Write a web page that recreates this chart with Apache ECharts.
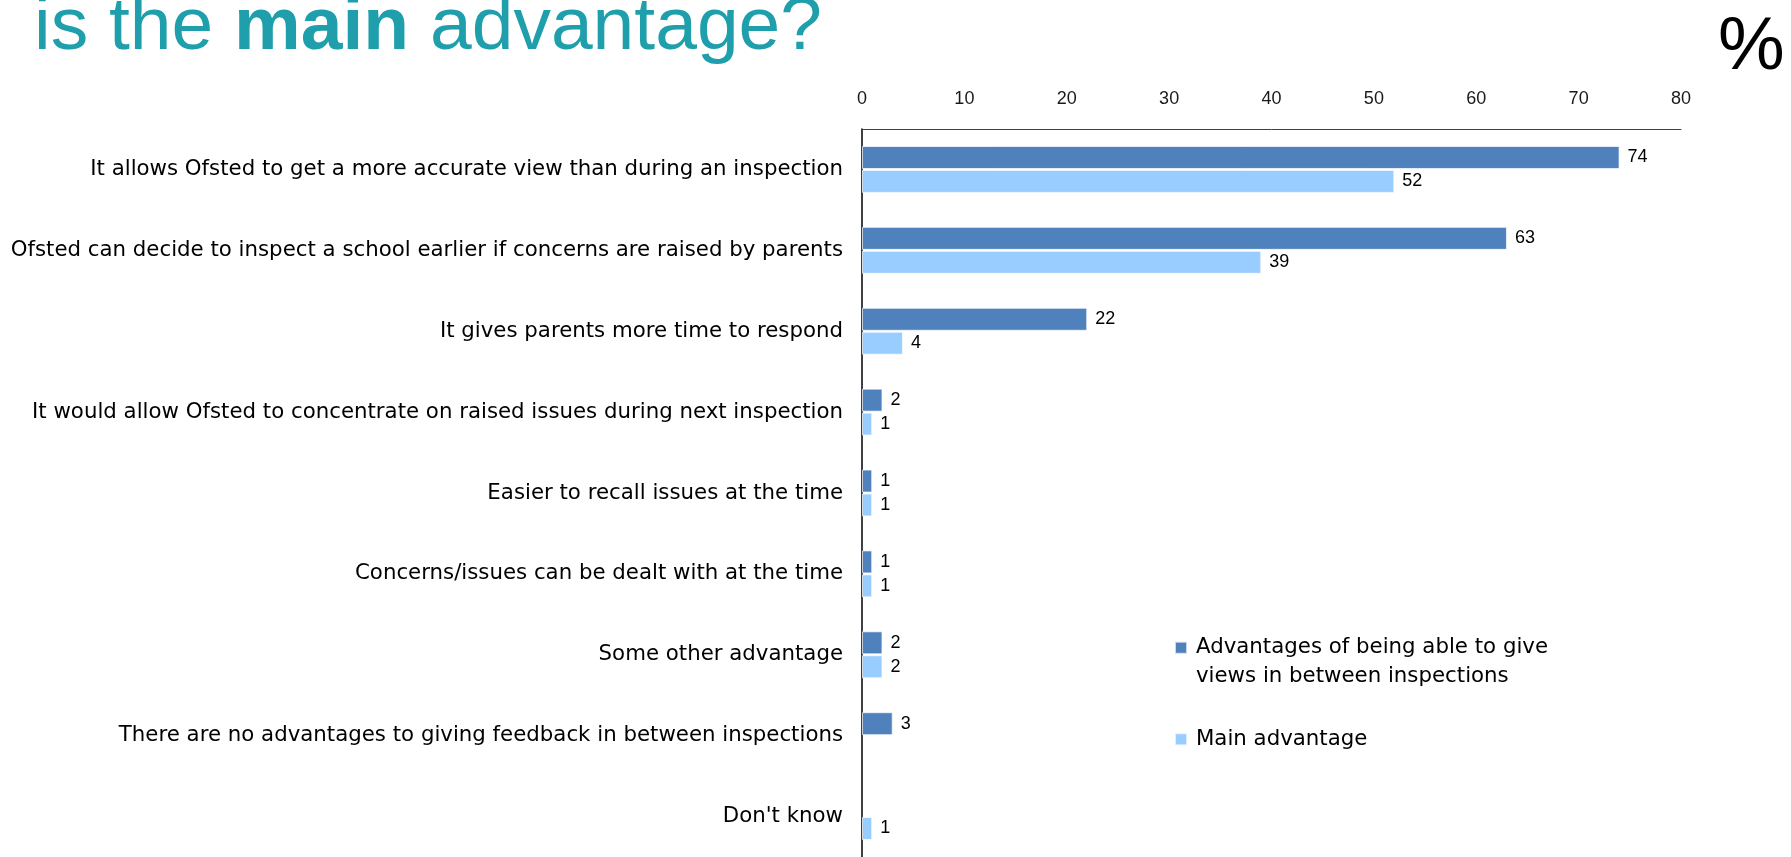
<!DOCTYPE html>
<html>
<head>
<meta charset="utf-8">
<script src="https://cdn.jsdelivr.net/npm/echarts@6/dist/echarts.min.js"></script>
<style>
html,body{margin:0;padding:0;background:#fff;}
#chart{width:1791px;height:857px;}
</style>
</head>
<body>
<div id="chart"></div>
<script>
const categories = [
  "It allows Ofsted to get a more accurate view than during an inspection",
  "Ofsted can decide to inspect a school earlier if concerns are raised by parents",
  "It gives parents more time to respond",
  "It would allow Ofsted to concentrate on raised issues during next inspection",
  "Easier to recall issues at the time",
  "Concerns/issues can be dealt with at the time",
  "Some other advantage",
  "There are no advantages to giving feedback in between inspections",
  "Don't know"
];
const seriesNames = [
  "Advantages of being able to give views in between inspections",
  "Main advantage"
];
const advantagesValues = [74, 63, 22, 2, 1, 1, 2, 3, null];
const mainAdvantageValues = [52, 39, 4, 1, 1, 1, 2, null, 1];
const axisTicks = { min: 0, max: 80, interval: 10 };

const chart = echarts.init(document.getElementById('chart'));
const catFont = 'DejaVu Sans';
const numFont = 'Liberation Sans';
const catSize = 21.3;

const option = {
  backgroundColor: '#fff',
  animation: false,
  title: [
    {
      text: '{a|is the }{b|main}{a| advantage?}',
      left: 29,
      top: -14.5,
      textStyle: {
        fontWeight: 'normal',
        rich: {
          a: { fontFamily: 'Liberation Sans', fontSize: 75, fontWeight: 'normal', color: '#1F9FAB', lineHeight: 75 },
          b: { fontFamily: 'Liberation Sans', fontSize: 75, fontWeight: 'bold', color: '#1F9FAB', lineHeight: 75 }
        }
      }
    },
    {
      text: '%',
      left: 1713,
      top: 6,
      textStyle: { fontFamily: 'Liberation Sans', fontSize: 75, fontWeight: 'normal', color: '#000' }
    }
  ],
  legend: [
    {
      data: [seriesNames[0]],
      orient: 'vertical',
      left: 1174,
      top: 605,
      padding: 0,
      itemWidth: 12,
      itemHeight: 12,
      icon: 'rect',
      formatter: function () { return '\nAdvantages of being able to give\nviews in between inspections'; },
      textStyle: { fontFamily: catFont, fontSize: catSize, color: '#000', lineHeight: 28.5, padding: [0, 0, 0, 4] }
    },
    {
      data: [seriesNames[1]],
      orient: 'vertical',
      left: 1174,
      top: 725,
      padding: 0,
      itemWidth: 12,
      itemHeight: 12,
      icon: 'rect',
      textStyle: { fontFamily: catFont, fontSize: catSize, color: '#000', lineHeight: 28.5, padding: [0, 0, 0, 4] }
    }
  ],
  grid: { left: 862, right: 110, top: 129, height: 732, containLabel: false },
  xAxis: {
    type: 'value',
    position: 'top',
    min: axisTicks.min,
    max: axisTicks.max,
    interval: axisTicks.interval,
    axisLine: { show: true, lineStyle: { color: '#404040', width: 1 } },
    axisTick: { show: false },
    splitLine: { show: false },
    axisLabel: { margin: 20.5, fontFamily: numFont, fontSize: 18, color: '#1a1a1a' }
  },
  yAxis: {
    type: 'category',
    inverse: true,
    data: categories,
    axisLine: { show: true, lineStyle: { color: '#000', width: 1.5 } },
    axisTick: { show: false },
    axisLabel: { margin: 19, fontFamily: catFont, fontSize: catSize, color: '#000', padding: [4, 0, 0, 0] }
  },
  series: [
    {
      name: seriesNames[0],
      type: 'bar',
      data: advantagesValues,
      barWidth: 23,
      barGap: '4%',
      itemStyle: { color: '#4F81BD', borderColor: 'rgba(255,255,255,0.7)', borderWidth: 1 },
      label: { show: true, position: 'right', distance: 8, fontFamily: numFont, fontSize: 18, color: '#000' }
    },
    {
      name: seriesNames[1],
      type: 'bar',
      data: mainAdvantageValues,
      barWidth: 23,
      barGap: '4%',
      itemStyle: { color: '#99CCFF', borderColor: 'rgba(255,255,255,0.7)', borderWidth: 1 },
      label: { show: true, position: 'right', distance: 8, fontFamily: numFont, fontSize: 18, color: '#000' }
    }
  ]
};
chart.setOption(option);
</script>
</body>
</html>
